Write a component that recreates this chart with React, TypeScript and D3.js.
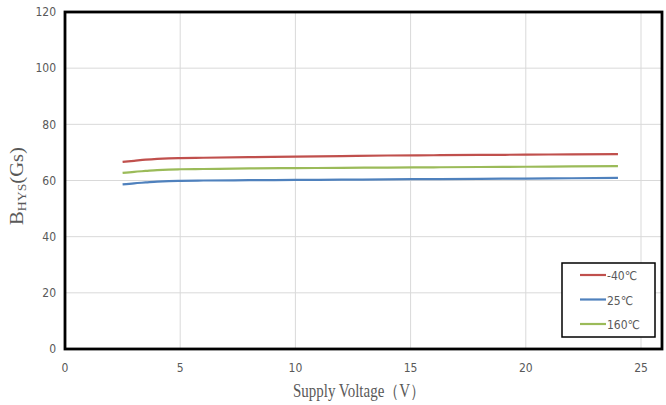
import React from "react";
import * as d3 from "d3";

const voltages = [2.5, 3, 3.5, 4, 4.5, 5, 6, 8, 10, 12, 14, 16, 18, 20, 22, 24];
const bMinus40 = [66.6, 67.0, 67.4, 67.7, 67.9, 68.0, 68.1, 68.3, 68.5, 68.7, 68.9, 69.0, 69.1, 69.2, 69.3, 69.4];
const b25 = [58.6, 59.0, 59.3, 59.6, 59.8, 59.9, 60.0, 60.1, 60.2, 60.3, 60.4, 60.5, 60.6, 60.7, 60.8, 60.9];
const b160 = [62.7, 63.1, 63.4, 63.7, 63.9, 64.0, 64.1, 64.3, 64.4, 64.5, 64.6, 64.7, 64.8, 64.9, 65.0, 65.1];
const seriesNames = ["-40℃", "25℃", "160℃"];
const seriesColors = ["#c0504d", "#4f81bd", "#9bbb59"];
const xTicks = [0, 5, 10, 15, 20, 25];
const yTicks = [0, 20, 40, 60, 80, 100, 120];

export default function App() {
  const W = 666, H = 405;
  const left = 65, top = 12, right = 662, bottom = 349;
  const x = d3.scaleLinear().domain([0, 25]).range([left, 641]);
  const y = d3.scaleLinear().domain([0, 120]).range([bottom, top]);
  const line = d3
    .line<number>()
    .x((_, i) => x(voltages[i]))
    .y((d) => y(d))
    .curve(d3.curveMonotoneX);
  const all = [bMinus40, b25, b160];
  const tickFont = "'Liberation Sans Narrow', 'DejaVu Sans Condensed', 'Liberation Sans', sans-serif";
  return (
    <svg width={W} height={H} style={{ position: "absolute", left: 0, top: 0 }}>
      <rect x={0} y={0} width={W} height={H} fill="#fff" />
      {yTicks.slice(1, -1).map((t) => (
        <line key={"gy" + t} x1={left} x2={right} y1={y(t)} y2={y(t)} stroke="#d9d9d9" strokeWidth={1} />
      ))}
      {xTicks.slice(1).map((t) => (
        <line key={"gx" + t} x1={x(t)} x2={x(t)} y1={top} y2={bottom} stroke="#d9d9d9" strokeWidth={1} />
      ))}
      {all.map((s, i) => (
        <path key={i} d={line(s) || ""} fill="none" stroke={seriesColors[i]} strokeWidth={2.2} />
      ))}
      <rect x={left} y={top} width={right - left} height={bottom - top} fill="none" stroke="#000" strokeWidth={2.8} />
      {yTicks.map((t) => (
        <text key={"ty" + t} x={left - 9} y={y(t)} dy="0.35em" textAnchor="end" fontSize={12} fill="#595959" fontFamily={tickFont}>
          {t}
        </text>
      ))}
      {xTicks.map((t) => (
        <text key={"tx" + t} x={x(t)} y={bottom + 23} textAnchor="middle" fontSize={12} fill="#595959" fontFamily={tickFont}>
          {t}
        </text>
      ))}
      <text x={359} y={397} textAnchor="middle" fontSize={18} fill="#595959" fontFamily="'Liberation Serif', serif" textLength={132} lengthAdjust="spacingAndGlyphs">
        Supply Voltage（V）
      </text>
      <text transform="translate(23,186) rotate(-90)" textAnchor="middle" fontSize={18} fill="#595959" fontFamily="'Liberation Serif', serif" textLength={78} lengthAdjust="spacingAndGlyphs">
        B<tspan fontSize={12} dy={3}>HYS</tspan>
        <tspan dy={-3}>(Gs)</tspan>
      </text>
      <rect x={562} y={263} width={93} height={74} fill="#fff" stroke="#000" strokeWidth={1.5} />
      {seriesNames.map((n, i) => (
        <g key={n}>
          <line x1={580} x2={606} y1={275 + i * 24.5} y2={275 + i * 24.5} stroke={seriesColors[i]} strokeWidth={2.2} />
          <text x={607} y={275 + i * 24.5 + 5} fontSize={12} fill="#595959" fontFamily={tickFont}>
            {n}
          </text>
        </g>
      ))}
    </svg>
  );
}
